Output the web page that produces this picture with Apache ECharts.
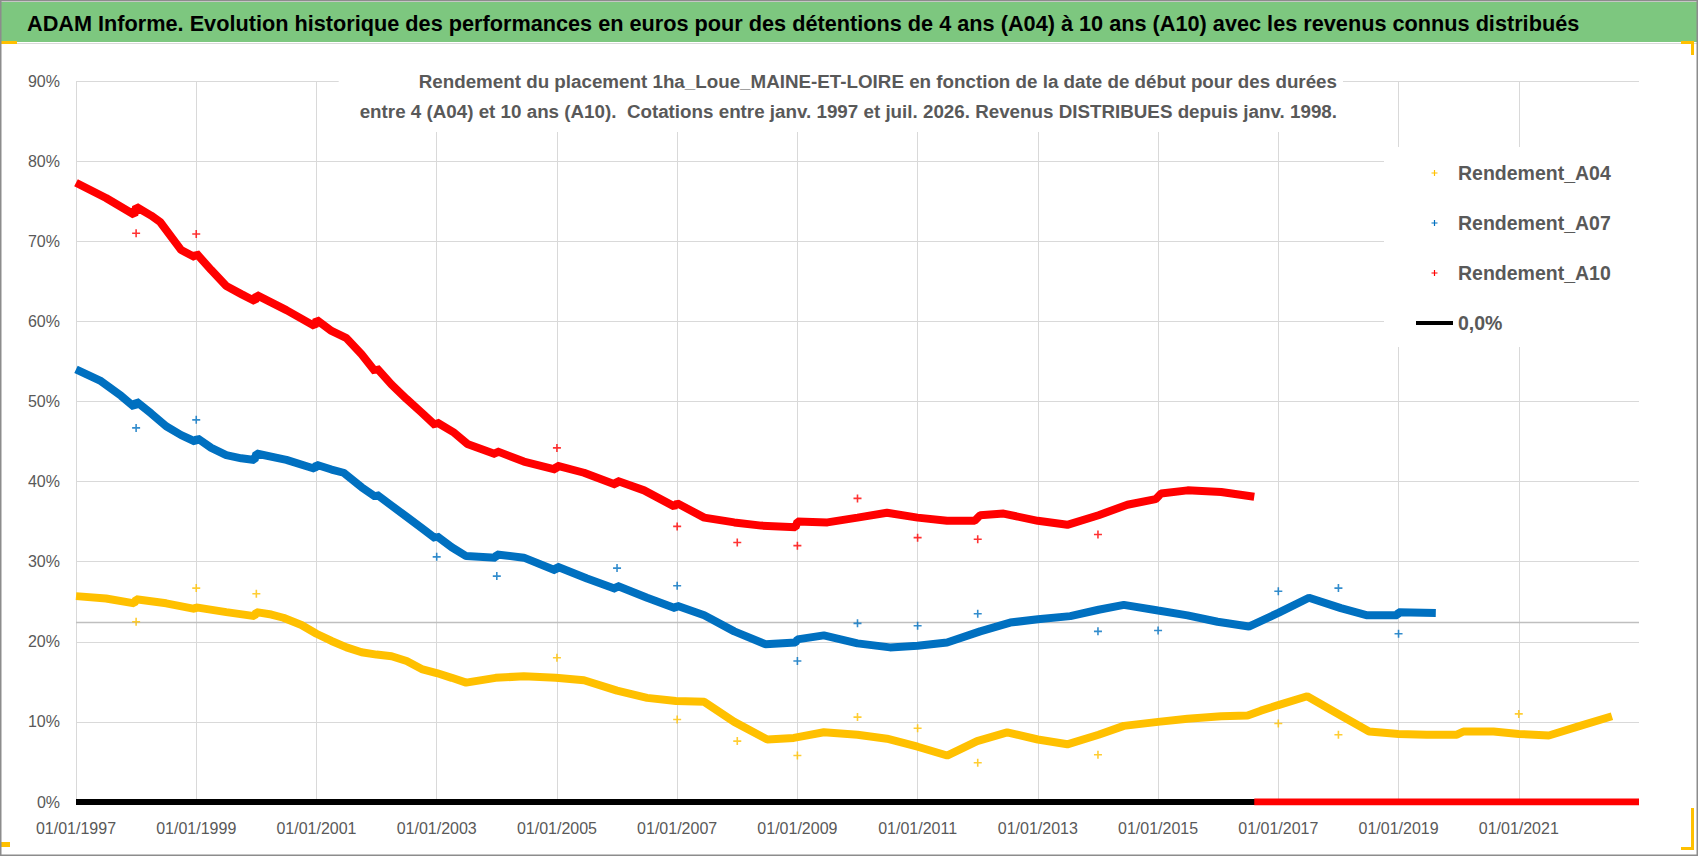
<!DOCTYPE html>
<html>
<head>
<meta charset="utf-8">
<title>ADAM Informe - Rendement 1ha_Loue_MAINE-ET-LOIRE</title>
<script src="https://cdn.jsdelivr.net/npm/echarts@6/dist/echarts.min.js"></script>
<style>
  html, body { margin: 0; padding: 0; background: #fff; }
  #chart { width: 1698px; height: 856px; }
</style>
</head>
<body>
<div id="chart"></div>
<script>
// dates en années décimales, rendements en %
const rendement_A10 = [
  [1997.0, 77.3], [1997.5, 75.4], [1997.97, 73.3], [1998.0, 74.3], [1998.25, 73.2], [1998.4, 72.4],
  [1998.75, 68.9], [1998.98, 68.0], [1999.0, 68.5], [1999.25, 66.4], [1999.5, 64.4], [1999.75, 63.4],
  [1999.98, 62.5], [2000.0, 63.3], [2000.5, 61.4], [2000.97, 59.4], [2001.0, 60.2], [2001.25, 58.8],
  [2001.5, 57.9], [2001.75, 55.9], [2001.98, 53.7], [2002.0, 54.2], [2002.25, 52.1], [2002.5, 50.3],
  [2002.75, 48.6], [2002.98, 47.0], [2003.0, 47.4], [2003.29, 46.1], [2003.51, 44.7], [2003.98, 43.4],
  [2004.0, 43.8], [2004.45, 42.5], [2004.98, 41.5], [2005.0, 42.0], [2005.45, 41.1], [2005.98, 39.6],
  [2006.0, 40.1], [2006.45, 38.9], [2006.95, 36.9], [2007.0, 37.3], [2007.45, 35.5], [2007.95, 34.9],
  [2008.4, 34.5], [2008.97, 34.3], [2009.0, 35.0], [2009.5, 34.9], [2010.0, 35.5], [2010.49, 36.1],
  [2011.0, 35.5], [2011.49, 35.1], [2011.95, 35.1], [2012.04, 35.8], [2012.43, 36.0], [2013.0, 35.1],
  [2013.49, 34.6], [2014.01, 35.8], [2014.49, 37.1], [2014.96, 37.8], [2015.05, 38.5], [2015.49, 38.9],
  [2016.05, 38.7], [2016.6, 38.1]
];
const rendement_A07 = [
  [1997.0, 54.0], [1997.4, 52.6], [1997.75, 50.7], [1997.97, 49.3], [1998.0, 50.0], [1998.25, 48.5],
  [1998.5, 46.9], [1998.75, 45.8], [1998.98, 45.0], [1999.02, 45.4], [1999.25, 44.2], [1999.5, 43.3],
  [1999.75, 42.9], [1999.97, 42.7], [2000.0, 43.5], [2000.5, 42.7], [2000.97, 41.6], [2001.0, 42.1],
  [2001.25, 41.5], [2001.45, 41.1], [2001.75, 39.3], [2001.98, 38.1], [2002.0, 38.4], [2002.25, 37.0],
  [2002.5, 35.6], [2002.75, 34.2], [2002.98, 32.9], [2003.0, 33.2], [2003.25, 31.8], [2003.49, 30.7],
  [2003.98, 30.5], [2004.0, 30.9], [2004.45, 30.5], [2004.98, 28.9], [2005.0, 29.4], [2005.5, 27.9],
  [2005.98, 26.6], [2006.0, 27.0], [2006.5, 25.5], [2006.97, 24.2], [2007.0, 24.5], [2007.45, 23.3],
  [2007.95, 21.3], [2008.47, 19.7], [2008.97, 19.9], [2009.0, 20.3], [2009.44, 20.8], [2010.0, 19.8],
  [2010.54, 19.3], [2011.0, 19.5], [2011.49, 19.9], [2012.04, 21.3], [2012.54, 22.4], [2013.0, 22.8],
  [2013.54, 23.2], [2014.01, 24.0], [2014.43, 24.6], [2015.0, 23.9], [2015.49, 23.3], [2015.99, 22.5],
  [2016.51, 21.9], [2017.0, 23.6], [2017.51, 25.5], [2018.04, 24.2], [2018.48, 23.3], [2018.98, 23.3],
  [2019.0, 23.7], [2019.62, 23.6]
];
const rendement_A04 = [
  [1997.0, 25.7], [1997.5, 25.4], [1997.97, 24.8], [1998.0, 25.3], [1998.5, 24.8], [1998.97, 24.1],
  [1999.0, 24.3], [1999.5, 23.7], [1999.97, 23.2], [2000.0, 23.7], [2000.25, 23.4], [2000.45, 23.0],
  [2000.75, 22.1], [2001.0, 21.0], [2001.25, 20.1], [2001.5, 19.3], [2001.75, 18.7], [2002.0, 18.4],
  [2002.25, 18.2], [2002.5, 17.6], [2002.75, 16.6], [2003.0, 16.1], [2003.25, 15.5], [2003.49, 14.9],
  [2003.98, 15.5], [2004.45, 15.7], [2004.98, 15.5], [2005.45, 15.2], [2006.0, 13.9], [2006.5, 13.0],
  [2006.98, 12.6], [2007.45, 12.5], [2007.95, 10.0], [2008.5, 7.8], [2008.94, 8.0], [2009.44, 8.7],
  [2010.0, 8.4], [2010.49, 7.9], [2011.0, 6.9], [2011.49, 5.8], [2011.99, 7.6], [2012.49, 8.7],
  [2013.0, 7.8], [2013.49, 7.2], [2014.01, 8.4], [2014.43, 9.5], [2015.0, 10.0], [2015.49, 10.4],
  [2016.05, 10.7], [2016.49, 10.8], [2016.71, 11.4], [2017.0, 12.1], [2017.48, 13.2], [2018.04, 10.8],
  [2018.51, 8.8], [2019.0, 8.5], [2019.47, 8.4], [2019.97, 8.4], [2020.08, 8.8], [2020.58, 8.8],
  [2021.0, 8.5], [2021.5, 8.3], [2022.02, 9.5], [2022.55, 10.7]
];
// points isolés (début d'année)
const isoles_A10 = [
  [1998.0, 71.0], [1999.0, 70.9], [2005.0, 44.2], [2007.0, 34.4], [2008.0, 32.4], [2009.0, 32.0],
  [2010.0, 37.9], [2011.0, 33.0], [2012.0, 32.8], [2014.0, 33.4]
];
const isoles_A07 = [
  [1998.0, 46.7], [1999.0, 47.7], [2003.0, 30.6], [2004.0, 28.2], [2006.0, 29.2], [2007.0, 27.0],
  [2009.0, 17.6], [2010.0, 22.3], [2011.0, 22.0], [2012.0, 23.5], [2014.0, 21.3], [2015.0, 21.4],
  [2017.0, 26.3], [2018.0, 26.7], [2019.0, 21.0]
];
const isoles_A04 = [
  [1998.0, 22.5], [1999.0, 26.7], [2000.0, 26.0], [2005.0, 18.0], [2007.0, 10.3], [2008.0, 7.6],
  [2009.0, 5.8], [2010.0, 10.6], [2011.0, 9.2], [2012.0, 4.9], [2014.0, 5.9], [2017.0, 9.8],
  [2018.0, 8.4], [2021.0, 11.0]
];
// valeurs nulles (A10 après la fin des cotations), ligne 0,0% et repère gris
const zeros_A10 = [[2016.6, 0], [2023.0, 0]];
const ligne_zero = [[1997.0, 0], [2023.0, 0]];
const repere_gris = [[1997.0, 22.4], [2023.0, 22.4]];

const noms = ['Rendement_A04', 'Rendement_A07', 'Rendement_A10', '0,0%'];
const couleurs = ['#FFC000', '#0070C0', '#FF0000', '#000000'];

const titre = 'ADAM Informe. Evolution historique des performances en euros pour des détentions de 4 ans (A04) à 10 ans (A10) avec les revenus connus distribués';
const sous_titre = 'Rendement du placement 1ha_Loue_MAINE-ET-LOIRE en fonction de la date de début pour des durées\nentre 4 (A04) et 10 ans (A10).  Cotations entre janv. 1997 et juil. 2026. Revenus DISTRIBUES depuis janv. 1998.';

const FONT = '"Liberation Sans", Arial, sans-serif';
const PLUS = 'path://M4,0H6V4H10V6H6V10H4V6H0V4H4Z';

var chart = echarts.init(document.getElementById('chart'), null, {renderer: 'svg'});

function courbe(name, data, color) {
    return {
        name: name, type: 'line', data: data, showSymbol: false, symbol: 'none',
        lineStyle: {color: color, width: 8}, itemStyle: {color: color}, z: 3, silent: true
    };
}
function isoles(name, data, color) {
    return {
        name: name, type: 'scatter', data: data, symbol: PLUS, symbolSize: 8,
        itemStyle: {color: color}, z: 4, silent: true
    };
}

var option = {
    backgroundColor: '#ffffff',
    animation: false,
    textStyle: {fontFamily: FONT},
    graphic: [
        {type: 'rect', shape: {x: 0, y: 2, width: 1698, height: 40}, style: {fill: '#7DC77F'}, z: -10},
        {type: 'rect', shape: {x: 0, y: 43, width: 1698, height: 1}, style: {fill: '#D9D9D9'}, z: -10},
        {type: 'rect', shape: {x: 0, y: 41, width: 17, height: 3}, style: {fill: '#FFC000'}, z: -9},
        {type: 'rect', shape: {x: 1681, y: 41, width: 13, height: 3}, style: {fill: '#FFC000'}, z: -9},
        {type: 'rect', shape: {x: 1691, y: 41, width: 3, height: 14}, style: {fill: '#FFC000'}, z: -9},
        {type: 'rect', shape: {x: 1691, y: 808, width: 3, height: 42}, style: {fill: '#FFC000'}, z: -9},
        {type: 'rect', shape: {x: 1681, y: 847, width: 13, height: 3}, style: {fill: '#FFC000'}, z: -9},
        {type: 'rect', shape: {x: 0, y: 842, width: 10, height: 5}, style: {fill: '#FFC000'}, z: -9},
        {type: 'rect', shape: {x: 0.5, y: 0.5, width: 1697, height: 855},
            style: {fill: 'none', stroke: '#8C8C8C', lineWidth: 2}, z: 100},
        {
            type: 'text', x: 1343, y: 60, z: 5,
            style: {
                text: sous_titre, align: 'right', verticalAlign: 'top',
                fontFamily: FONT, fontWeight: 'bold', fontSize: 18.8, lineHeight: 30,
                fill: '#595959', backgroundColor: '#ffffff', padding: [6, 6, 6, 21]
            }
        }
    ],
    title: {
        text: titre, left: 27, top: 8, padding: 0,
        textStyle: {fontFamily: FONT, fontWeight: 'bold', fontSize: 21.7, color: '#000', lineHeight: 30}
    },
    legend: {
        orient: 'vertical', left: 1384, top: 147, padding: [14, 30, 12, 32],
        backgroundColor: '#ffffff', itemWidth: 37, itemHeight: 6, itemGap: 26,
        selectedMode: false, z: 10,
        textStyle: {fontFamily: FONT, fontWeight: 'bold', fontSize: 19.5, color: '#595959', lineHeight: 24},
        data: [
            {name: noms[0], icon: PLUS, itemStyle: {color: couleurs[0]}},
            {name: noms[1], icon: PLUS, itemStyle: {color: couleurs[1]}},
            {name: noms[2], icon: PLUS, itemStyle: {color: couleurs[2]}},
            {name: noms[3], icon: 'path://M0,0H37V4H0Z', itemStyle: {color: couleurs[3]}}
        ]
    },
    grid: {left: 76, right: 59, top: 81, bottom: 54},
    xAxis: {
        type: 'value', min: 1997, max: 2023, interval: 2,
        axisLine: {show: false}, axisTick: {show: false},
        axisLabel: {
            color: '#595959', fontSize: 16, fontFamily: FONT, margin: 18, showMaxLabel: false,
            formatter: (v) => '01/01/' + v
        },
        splitLine: {show: true, showMaxLine: false, lineStyle: {color: '#D9D9D9', width: 1}}
    },
    yAxis: {
        type: 'value', min: 0, max: 90, interval: 10,
        axisLine: {show: false}, axisTick: {show: false},
        axisLabel: {color: '#595959', fontSize: 16, fontFamily: FONT, margin: 16, formatter: '{value}%'},
        splitLine: {lineStyle: {color: '#D9D9D9', width: 1}}
    },
    series: [
        {name: 'repere', type: 'line', data: repere_gris, symbol: 'none', silent: true,
            lineStyle: {color: '#BFBFBF', width: 1.5}, z: 2},
        {name: noms[3], type: 'line', data: ligne_zero, symbol: 'none', silent: true,
            lineStyle: {color: couleurs[3], width: 6}, itemStyle: {color: couleurs[3]}, z: 3},
        courbe(noms[0], rendement_A04, couleurs[0]),
        courbe(noms[1], rendement_A07, couleurs[1]),
        courbe(noms[2], rendement_A10, couleurs[2]),
        {name: 'zeros_A10', type: 'line', data: zeros_A10, symbol: 'none', silent: true,
            lineStyle: {color: couleurs[2], width: 7}, z: 4},
        isoles(noms[0], isoles_A04, couleurs[0]),
        isoles(noms[1], isoles_A07, couleurs[1]),
        isoles(noms[2], isoles_A10, couleurs[2])
    ]
};

chart.setOption(option);
</script>
</body>
</html>
